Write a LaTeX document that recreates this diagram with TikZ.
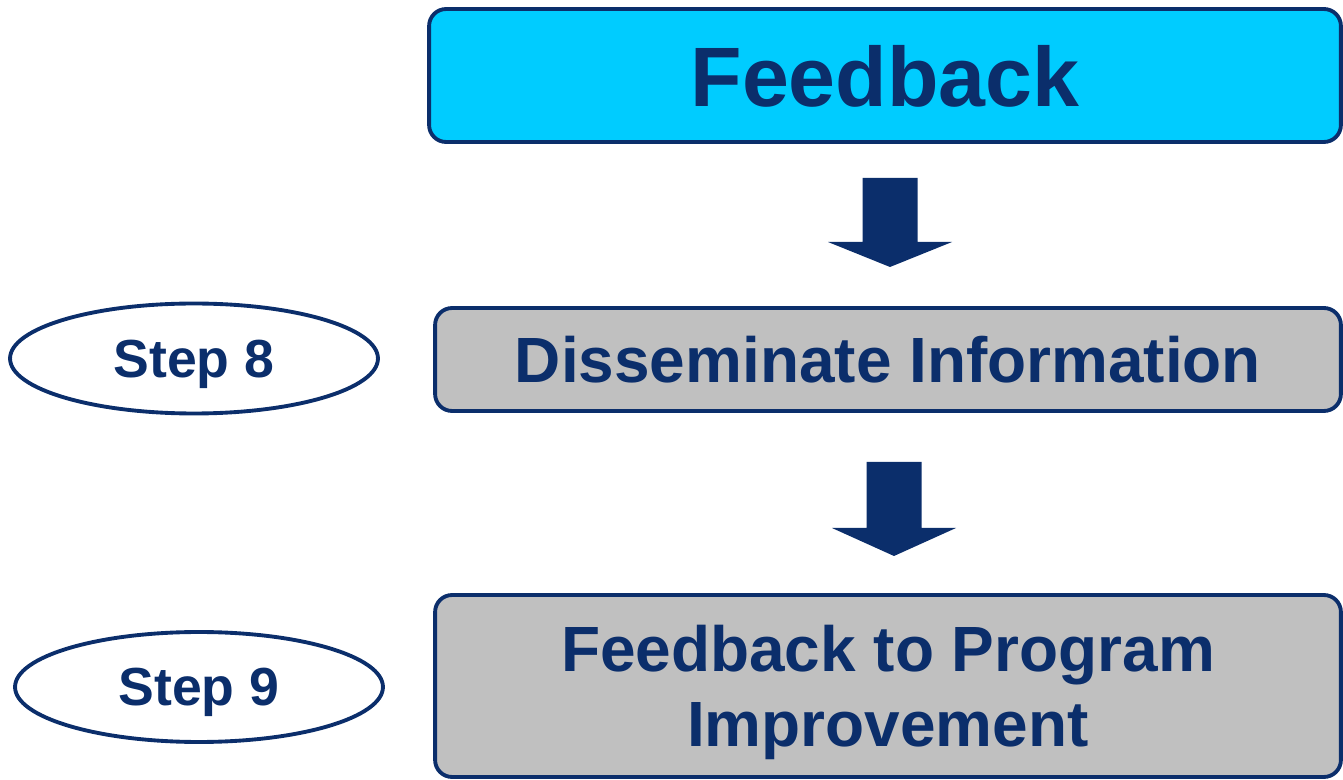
\documentclass[tikz,border=0pt]{standalone}
\usepackage{fontspec}
\setmainfont{Liberation Sans}
\usepackage{tikz}
\usetikzlibrary{shapes, positioning}
\definecolor{navy}{RGB}{11,46,107}
\definecolor{skyfill}{RGB}{0,204,255}
\definecolor{boxgray}{RGB}{192,192,192}

\begin{document}
\begin{tikzpicture}[x=0.02cm,y=-0.02cm,
  stage/.style={rectangle, draw=navy, line width=2.2pt, rounded corners=0.34cm,
  text=navy, font=\bfseries, inner sep=0pt, outer sep=0pt, align=center, text depth=0pt},
  stepnode/.style={ellipse, draw=navy, line width=2.2pt, text=navy,
  font=\fontsize{30.5}{36}\selectfont\bfseries, inner sep=0pt, outer sep=0pt,
  text depth=0pt, minimum width=7.36cm, minimum height=2.2cm},
  blockarrow/.style={fill=navy}]
  \useasboundingbox (0,0) rectangle (1343,780);

  \node[stage, fill=skyfill, minimum width=18.24cm, minimum height=2.66cm,
    font=\fontsize{48}{56}\selectfont\bfseries] (FB) at (885,75.5) {Feedback};
  \node[stage, fill=boxgray, minimum width=18.12cm, minimum height=2.06cm,
    font=\fontsize{36.4}{43}\selectfont\bfseries] (DIS) at (888,359.5) {Disseminate Information};
  \node[stage, fill=boxgray, minimum width=18.12cm, minimum height=3.64cm,
    font=\fontsize{36.4}{43}\selectfont\bfseries] (IMP) at (888,686) {Feedback to Program\\Improvement};

  \node[stepnode] (S8) at (194,358.5) {Step 8};
  \node[stepnode] (S9) at (199,687) {Step 9};

  % block arrows between the stages
  \foreach \cx/\ty/\hy/\py in {890/178/242/267, 894/462/528/556}
    \fill[blockarrow] (\cx-27.5,\ty) -- (\cx+27.5,\ty) -- (\cx+27.5,\hy) -- (\cx+62,\hy)
      -- (\cx,\py) -- (\cx-62,\hy) -- (\cx-27.5,\hy) -- cycle;
\end{tikzpicture}
\end{document}
